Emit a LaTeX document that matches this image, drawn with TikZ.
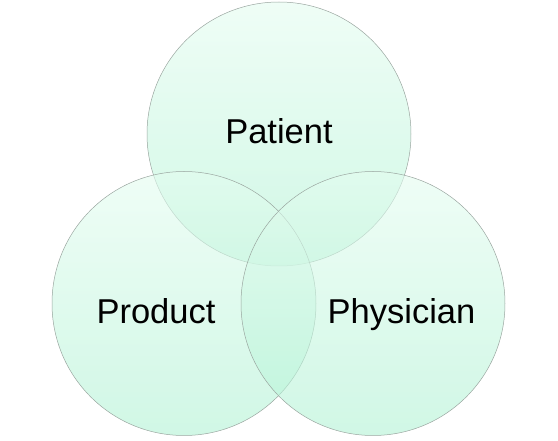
\documentclass[tikz,border=0pt]{standalone}
\usepackage{fontspec}
\setmainfont{Liberation Sans}
\definecolor{mintTop}{HTML}{E4FCF0}
\definecolor{mintBot}{HTML}{B1F2D4}
\definecolor{ringGray}{HTML}{9AA6A0}
\begin{document}
\begin{tikzpicture}[x=1pt,y=-1pt,
  vennring/.style={circle, minimum size=264pt, inner sep=0pt,
    top color=mintTop, bottom color=mintBot, fill opacity=0.6,
    draw=ringGray, draw opacity=1, line width=0.5pt},
  venntext/.style={anchor=base, inner sep=0pt, text=black,
    font=\fontsize{34.5}{40}\selectfont}]
\useasboundingbox (0,0) rectangle (558,441);
\node[vennring] (patientC) at (279,134) {};
\node[vennring] (productC) at (184,303.5) {};
\node[vennring] (physicianC) at (373,303.5) {};
\node[venntext] (patientT) at (279,144) {Patient};
\node[venntext] (productT) at (156,324) {Product};
\node[venntext] (physicianT) at (401.5,324) {Physician};
\end{tikzpicture}
\end{document}
